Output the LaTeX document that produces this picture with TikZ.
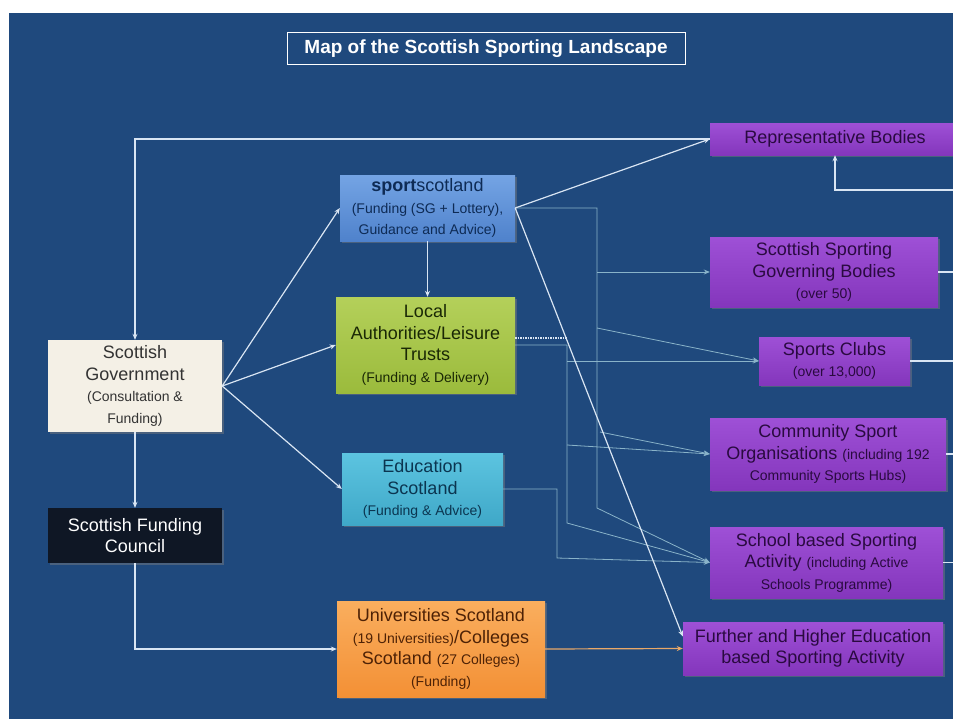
\documentclass[tikz,border=0pt]{standalone}
\usepackage{fontspec}
\setmainfont{Liberation Sans}
\usetikzlibrary{arrows.meta,shadows}

\definecolor{bgblue}{HTML}{1F497D}
\definecolor{sgfill}{HTML}{F4F0E6}
\definecolor{sgtxt}{HTML}{333333}
\definecolor{sfcfill}{HTML}{0F1725}
\definecolor{sshi}{HTML}{74A4E4}
\definecolor{sslo}{HTML}{4F82CC}
\definecolor{sstxt}{HTML}{0E2B55}
\definecolor{lahi}{HTML}{B4D05A}
\definecolor{lalo}{HTML}{9BBB3C}
\definecolor{latxt}{HTML}{1A2805}
\definecolor{eduhi}{HTML}{5CC4E0}
\definecolor{edulo}{HTML}{3FA8C8}
\definecolor{edutxt}{HTML}{0B3550}
\definecolor{unihi}{HTML}{FAAE5E}
\definecolor{unilo}{HTML}{F39035}
\definecolor{unitxt}{HTML}{4E2206}
\definecolor{purphi}{HTML}{9E50D6}
\definecolor{purplo}{HTML}{8436BC}
\definecolor{purptxt}{HTML}{2A0A40}
\definecolor{lnwhite}{HTML}{D9E5F3}
\definecolor{lnteal}{HTML}{89B3C9}
\definecolor{lnorange}{HTML}{E8A868}

\newcommand{\mainsz}{\fontsize{18}{21.5}\selectfont}
\newcommand{\smtxt}[1]{{\fontsize{14}{17}\selectfont #1}}

\tikzset{
  box/.style={rectangle, inner sep=0pt, align=center, font=\mainsz,
    drop shadow={opacity=0.45,shadow xshift=2pt,shadow yshift=-2pt}},
  purplebox/.style={box, top color=purphi, bottom color=purplo, text=purptxt},
  ln/.style={draw=lnwhite, line width=1.2pt},
  thinln/.style={draw=lnteal, line width=0.8pt},
  arr/.style={-{Stealth[length=6pt,width=5pt]}},
}

\begin{document}
\begin{tikzpicture}[x=1pt,y=-1pt]
  \useasboundingbox (0,0) rectangle (953,725);
  \fill[white] (0,0) rectangle (953,725);
  \fill[bgblue] (9,13) rectangle (953,719);
  \clip (9,13) rectangle (953,719);

  \node[draw=white, line width=1pt, text=white, minimum width=398pt, minimum height=32pt,
    font=\bfseries\fontsize{19}{22}\selectfont] (title) at (486,49) {Map of the Scottish Sporting Landscape};

  \node[box, fill=sgfill, text=sgtxt, minimum width=174pt, minimum height=92pt] (sg) at (135,386)
    {Scottish\\Government\\\smtxt{(Consultation \&}\\\smtxt{Funding)}};
  \node[box, fill=sfcfill, text=white, minimum width=174pt, minimum height=55pt] (sfc) at (135,535.5)
    {Scottish Funding\\Council};
  \node[box, top color=sshi, bottom color=sslo, text=sstxt, minimum width=175pt, minimum height=66pt] (sportscot) at (427.5,208)
    {\textbf{sport}scotland\\\smtxt{(Funding (SG + Lottery),}\\\smtxt{Guidance and Advice)}};
  \node[box, top color=lahi, bottom color=lalo, text=latxt, minimum width=179pt, minimum height=96pt] (la) at (425.5,345)
    {Local\\Authorities/Leisure\\Trusts\\\smtxt{(Funding \& Delivery)}};
  \node[box, top color=eduhi, bottom color=edulo, text=edutxt, minimum width=161pt, minimum height=72pt] (edu) at (422.5,489)
    {Education\\Scotland\\\smtxt{(Funding \& Advice)}};
  \node[box, top color=unihi, bottom color=unilo, text=unitxt, minimum width=208pt, minimum height=96pt] (uni) at (441,649)
    {Universities Scotland\\\smtxt{(19 Universities)}/Colleges\\Scotland \smtxt{(27 Colleges)}\\\smtxt{(Funding)}};

  \node[purplebox, minimum width=250pt, minimum height=32pt] (rep) at (835,139) {Representative Bodies};
  \node[purplebox, minimum width=228pt, minimum height=70pt] (sgb) at (824,272)
    {Scottish Sporting\\Governing Bodies\\\smtxt{(over 50)}};
  \node[purplebox, minimum width=151pt, minimum height=48pt] (clubs) at (834.5,361)
    {Sports Clubs\\\smtxt{(over 13,000)}};
  \node[purplebox, minimum width=236pt, minimum height=72pt] (cso) at (828,454)
    {Community Sport\\Organisations \smtxt{(including 192}\\\smtxt{Community Sports Hubs)}};
  \node[purplebox, minimum width=233pt, minimum height=71pt] (school) at (826.5,562.5)
    {School based Sporting\\Activity \smtxt{(including Active}\\\smtxt{Schools Programme)}};
  \node[purplebox, minimum width=260pt, minimum height=53pt] (fhe) at (813,648.5)
    {Further and Higher Education\\based Sporting Activity};

  \coordinate (rbus) at (965,190);
  \coordinate (sbtop) at (597,208);
  \coordinate (sbbot) at (597,508);
  \coordinate (sbclub) at (597,328);
  \coordinate (sbcso) at (600,432);
  \coordinate (ladot) at (567,338);
  \coordinate (labus) at (567,345);
  \coordinate (labot) at (567,523);
  \coordinate (lacso) at (567,445);
  \coordinate (edtop) at (557,489);
  \coordinate (edbot) at (557,558);

  \draw[thinln,arr] (sportscot.east) -- (sbtop) -- (sbbot) -- (school.west);
  \draw[thinln,arr] (sbtop |- sgb.west) -- (sgb.west);
  \draw[thinln,arr] (sbclub) -- (clubs.west);
  \draw[thinln,arr] (sbcso) -- (cso.west);
  \draw[draw=lnwhite,line width=1.5pt,densely dotted] ([yshift=7pt]la.east) -- (ladot);
  \draw[thinln,arr] (la.east) -- (labus) -- (labot) -- (school.west);
  \draw[thinln,arr] (labus |- clubs.west) -- (clubs.west);
  \draw[thinln,arr] (lacso) -- (cso.west);
  \draw[thinln,arr] (edu.east) -- (edtop) -- (edbot) -- (school.west);

  \draw[ln,arr] (rep.west) -| (sg.north);
  \draw[ln,arr] (sportscot.east) -- (rep.west);
  \draw[ln,arr] (rbus) -| (rep.south);
  \draw[ln,arr] (sg.east) -- (sportscot.west);
  \draw[ln,arr] (sg.east) -- (la.west);
  \draw[ln,arr] (sg.east) -- (edu.west);
  \draw[ln,arr] (sg.south) -- (sfc.north);
  \draw[ln,arr] (sfc.south) |- (uni.west);
  \draw[ln,arr] (sportscot.south) -- (sportscot.south |- la.north);
  \draw[ln,arr] (sportscot.east) -- ([yshift=12pt]fhe.west);
  \draw[ln,draw=lnorange,arr] (uni.east) -- (fhe.west);

  \draw[ln] (sgb.east) -- (sgb.east -| rbus);
  \draw[ln] (clubs.east) -- (clubs.east -| rbus);
  \draw[ln] (cso.east) -- (cso.east -| rbus);
  \draw[ln] (school.east) -- (school.east -| rbus);
\end{tikzpicture}
\end{document}
